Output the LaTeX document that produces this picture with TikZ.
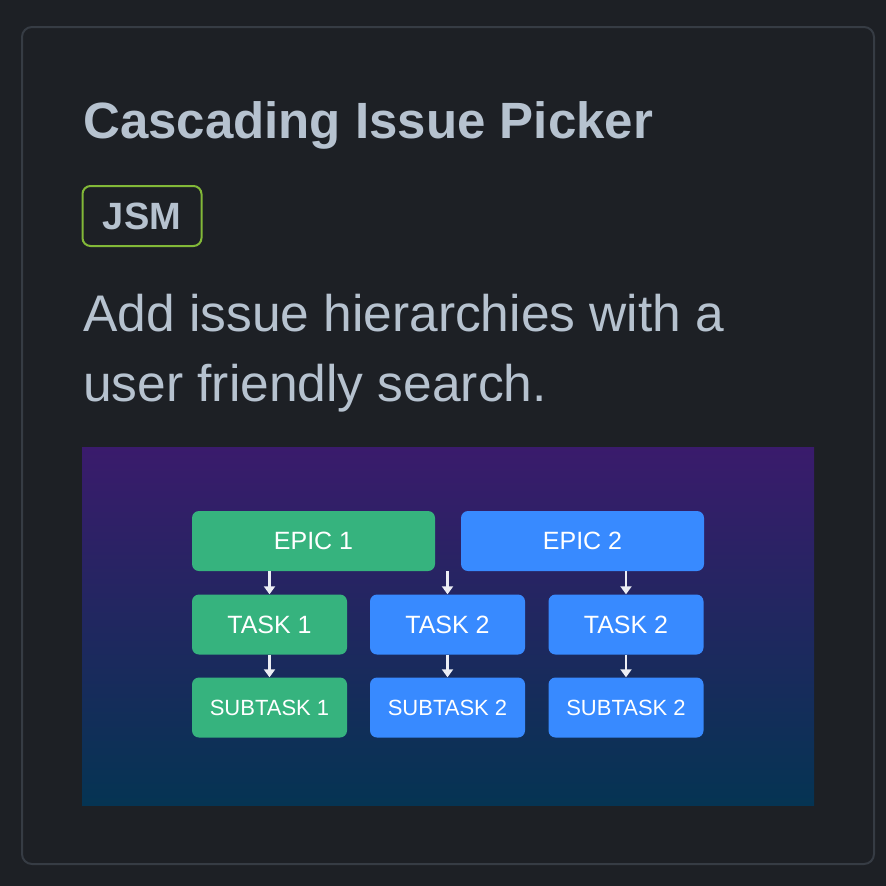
\documentclass[tikz,border=0pt]{standalone}
\usepackage{fontspec}
\setmainfont{Liberation Sans}
\usetikzlibrary{arrows.meta}
\definecolor{pagebg}{RGB}{29,32,37}
\definecolor{cardline}{RGB}{54,60,68}
\definecolor{titlegray}{RGB}{182,194,207}
\definecolor{tagline}{RGB}{130,184,56}
\definecolor{paneltop}{RGB}{58,27,108}
\definecolor{panelbot}{RGB}{5,52,83}
\definecolor{epicgreen}{RGB}{54,179,126}
\definecolor{epicblue}{RGB}{56,138,255}
\definecolor{linkwhite}{RGB}{236,238,244}
\tikzset{
  issue/.style={rounded corners=7pt, inner sep=0pt, minimum height=60pt,
    text=white, font=\fontsize{25}{30}\selectfont},
  epic/.style={issue, minimum width=243pt},
  task/.style={issue, minimum width=155pt},
  sub/.style={task, font=\fontsize{22}{26}\selectfont},
  link/.style={draw=linkwhite, line width=2.6pt, -{Triangle[width=11pt,length=8pt]}}
}
\begin{document}
\begin{tikzpicture}[x=1pt, y=-1pt]
\useasboundingbox (0,0) rectangle (886,886);
\fill[pagebg] (0,0) rectangle (886,886);
\draw[cardline, line width=2pt, fill=pagebg, rounded corners=10pt] (22,27) rectangle (874,864);
% heading, tag and blurb
\node[anchor=base west, inner sep=0pt, text=titlegray, font=\bfseries\fontsize{51}{60}\selectfont] (title) at (83,138) {Cascading Issue Picker};
\node[draw=tagline, line width=2pt, rounded corners=8pt, minimum width=119pt, minimum height=60pt, inner sep=0pt, text=titlegray, font=\bfseries\fontsize{38}{40}\selectfont] (tag) at (142,216) {JSM};
\node[anchor=base west, inner sep=0pt, text=titlegray, font=\fontsize{51.5}{60}\selectfont] (blurb1) at (83,331) {Add issue hierarchies with a};
\node[anchor=base west, inner sep=0pt, text=titlegray, font=\fontsize{51.5}{60}\selectfont] (blurb2) at (83,401) {user friendly search.};
% preview panel
\shade[top color=paneltop, bottom color=panelbot] (82,447) rectangle (814,805);
\foreach \n/\u/\v/\s/\c/\w in {e1/313.5/541/epic/epicgreen/EPIC 1, e2/582.5/541/epic/epicblue/EPIC 2,
  t1/269.5/624.5/task/epicgreen/TASK 1, t2/447.5/624.5/task/epicblue/TASK 2, t3/626/624.5/task/epicblue/TASK 2,
  s1/269.5/707.5/sub/epicgreen/SUBTASK 1, s2/447.5/707.5/sub/epicblue/SUBTASK 2, s3/626/707.5/sub/epicblue/SUBTASK 2}
\node[\s, fill=\c] (\n) at (\u,\v) {\w};
\foreach \a/\b in {e1/t1, e2/t2, e2/t3, t1/s1, t2/s2, t3/s3}
\draw[link] (\a.south -| \b.north) -- (\b.north);
\end{tikzpicture}
\end{document}
